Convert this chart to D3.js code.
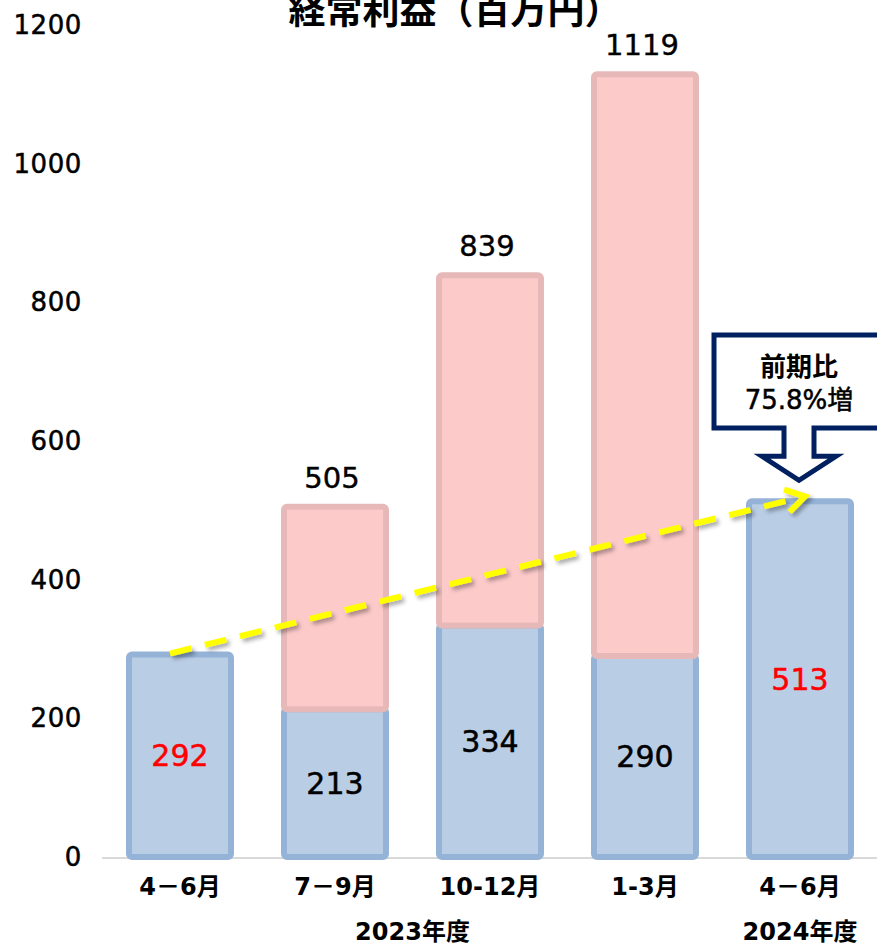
<!DOCTYPE html>
<html>
<head>
<meta charset="utf-8">
<script src="https://cdn.jsdelivr.net/npm/d3@7"></script>
<style>
  html, body { margin: 0; padding: 0; background: #fff; }
  svg text { font-family: "DejaVu Sans", "Noto Sans CJK JP", sans-serif; }
  svg text.jp { font-family: "Noto Sans CJK JP", sans-serif; }
</style>
</head>
<body>
<div id="chart"></div>
<script>
const quarters = ["4－6月", "7－9月", "10-12月", "1-3月", "4－6月"];
const quarterly = [292, 213, 334, 290, 513];      // blue: each quarter
const priorCum = [0, 292, 505, 839, 0];           // pink: cumulative of earlier quarters
const totalLabels = [null, "505", "839", "1119", null];
const redLabel = [true, false, false, false, true];
const yTicks = [0, 200, 400, 600, 800, 1000, 1200];
const years = [{ label: "2023年度", from: 0, to: 3 }, { label: "2024年度", from: 4, to: 4 }];
const title = "経常利益（百万円）";
const callout = ["前期比", "75.8%増"];

const width = 877, height = 946;

const svg = d3.select("#chart").append("svg")
    .attr("width", width)
    .attr("height", height);

const x = d3.scaleBand()
    .domain(d3.range(quarters.length))
    .range([102.5, 877.5])
    .paddingInner(0.342)
    .paddingOuter(0.171);

const y = d3.scaleLinear()
    .domain([0, 1200])
    .range([857, 25]);

const defs = svg.append("defs");
const shadow = defs.append("filter").attr("id", "shadow")
    .attr("x", "-10%").attr("y", "-50%").attr("width", "120%").attr("height", "200%");
shadow.append("feDropShadow")
    .attr("dx", 3).attr("dy", 3).attr("stdDeviation", 2)
    .attr("flood-color", "#000").attr("flood-opacity", 0.35);

// title
svg.append("text")
    .attr("class", "jp")
    .attr("x", 455).attr("y", 8)
    .attr("text-anchor", "middle")
    .attr("dominant-baseline", "central")
    .attr("font-size", 37)
    .attr("font-weight", "bold")
    .text(title);

// y labels
svg.append("g").selectAll("text")
    .data(yTicks)
    .join("text")
        .attr("x", 82)
        .attr("y", d => y(d))
        .attr("text-anchor", "end")
        .attr("dominant-baseline", "central")
        .attr("font-size", 26)
        .attr("letter-spacing", 0.6)
        .attr("stroke", "#000")
        .attr("stroke-width", 0.5)
        .text(d => d);

// baseline
svg.append("line")
    .attr("x1", 102).attr("x2", 877)
    .attr("y1", y(0) + 1).attr("y2", y(0) + 1)
    .attr("stroke", "#d9d9d9")
    .attr("stroke-width", 2);

// blue segments
svg.append("g").selectAll("rect")
    .data(quarterly)
    .join("rect")
        .attr("x", (d, i) => x(i))
        .attr("y", d => y(d))
        .attr("width", x.bandwidth())
        .attr("height", d => y(0) - y(d))
        .attr("rx", 3)
        .attr("fill", "#b9cde5")
        .attr("stroke", "#95b3d7")
        .attr("stroke-width", 6);

// pink segments
svg.append("g").selectAll("rect")
    .data(priorCum.map((p, i) => ({ i, lo: quarterly[i], hi: quarterly[i] + p })).filter(d => d.hi > d.lo))
    .join("rect")
        .attr("x", d => x(d.i))
        .attr("y", d => y(d.hi))
        .attr("width", x.bandwidth())
        .attr("height", d => y(d.lo) - y(d.hi))
        .attr("rx", 3)
        .attr("fill", "#fdcaca")
        .attr("stroke", "#e6b9b8")
        .attr("stroke-width", 6);

// value labels inside blue
svg.append("g").selectAll("text")
    .data(quarterly)
    .join("text")
        .attr("x", (d, i) => x(i) + x.bandwidth() / 2)
        .attr("y", d => y(d / 2))
        .attr("text-anchor", "middle")
        .attr("dominant-baseline", "central")
        .attr("font-size", 30)
        .attr("fill", (d, i) => redLabel[i] ? "#ff0000" : "#000")
        .attr("stroke", (d, i) => redLabel[i] ? "#ff0000" : "#000")
        .attr("stroke-width", 0.5)
        .text(d => d);

// total labels
svg.append("g").selectAll("text")
    .data(totalLabels.map((t, i) => ({ t, i })).filter(d => d.t))
    .join("text")
        .attr("x", d => x(d.i) + x.bandwidth() / 2 - 3)
        .attr("y", d => y(quarterly[d.i] + priorCum[d.i]) - 29)
        .attr("text-anchor", "middle")
        .attr("dominant-baseline", "central")
        .attr("font-size", 29)
        .attr("stroke", "#000")
        .attr("stroke-width", 0.4)
        .text(d => d.t);

// category labels
svg.append("g").selectAll("text")
    .data(quarters)
    .join("text")
        .attr("x", (d, i) => x(i) + x.bandwidth() / 2)
        .attr("y", 887)
        .attr("text-anchor", "middle")
        .attr("dominant-baseline", "central")
        .attr("font-size", 24)
        .attr("font-weight", "bold")
        .text(d => d);

svg.append("g").selectAll("text")
    .data(years)
    .join("text")
        .attr("x", d => (x(d.from) + x(d.to) + x.bandwidth()) / 2)
        .attr("y", 932)
        .attr("text-anchor", "middle")
        .attr("dominant-baseline", "central")
        .attr("font-size", 24)
        .attr("font-weight", "bold")
        .text(d => d.label);

// yellow dashed trend arrow
const x0 = x(0) + x.bandwidth() / 2 - 10, y0 = y(quarterly[0]) - 1;
const x1 = x(4) + x.bandwidth() / 2 + 5, y1 = y(quarterly[4]) - 5;
const ang = Math.atan2(y1 - y0, x1 - x0);
const head = 22, spread = 0.55;
const trend = svg.append("g").attr("filter", "url(#shadow)");
trend.append("line")
    .attr("x1", x0).attr("y1", y0)
    .attr("x2", x1 - 6 * Math.cos(ang)).attr("y2", y1 - 6 * Math.sin(ang))
    .attr("stroke", "#ffff00")
    .attr("stroke-width", 6)
    .attr("stroke-dasharray", "22 14");
trend.append("path")
    .attr("d", d3.line()([
        [x1 - head * Math.cos(ang - spread), y1 - head * Math.sin(ang - spread)],
        [x1, y1],
        [x1 - head * Math.cos(ang + spread), y1 - head * Math.sin(ang + spread)]
    ]))
    .attr("fill", "none")
    .attr("stroke", "#ffff00")
    .attr("stroke-width", 6)
    .attr("stroke-linejoin", "miter");

// callout
const cx = x(4) + x.bandwidth() / 2 - 1, tipY = y(quarterly[4]) - 21;
const box = { l: cx - 85, t: 335, r: cx + 100, b: 428 };
svg.append("path")
    .attr("d", d3.line()([
        [box.l, box.t], [box.r, box.t], [box.r, box.b],
        [cx + 15, box.b], [cx + 15, tipY - 24], [cx + 37, tipY - 24],
        [cx, tipY],
        [cx - 37, tipY - 24], [cx - 15, tipY - 24], [cx - 15, box.b],
        [box.l, box.b]
    ]) + "Z")
    .attr("fill", "#fff")
    .attr("stroke", "#002060")
    .attr("stroke-width", 5)
    .attr("stroke-linejoin", "miter");

svg.append("g").selectAll("text")
    .data(callout)
    .join("text")
        .attr("x", cx)
        .attr("y", (d, i) => 367 + i * 33)
        .attr("text-anchor", "middle")
        .attr("dominant-baseline", "central")
        .attr("font-size", 26)
        .attr("font-weight", (d, i) => i === 0 ? "bold" : "normal")
        .attr("stroke", "#000")
        .attr("stroke-width", (d, i) => i === 0 ? 0 : 0.5)
        .text(d => d);
</script>
</body>
</html>
